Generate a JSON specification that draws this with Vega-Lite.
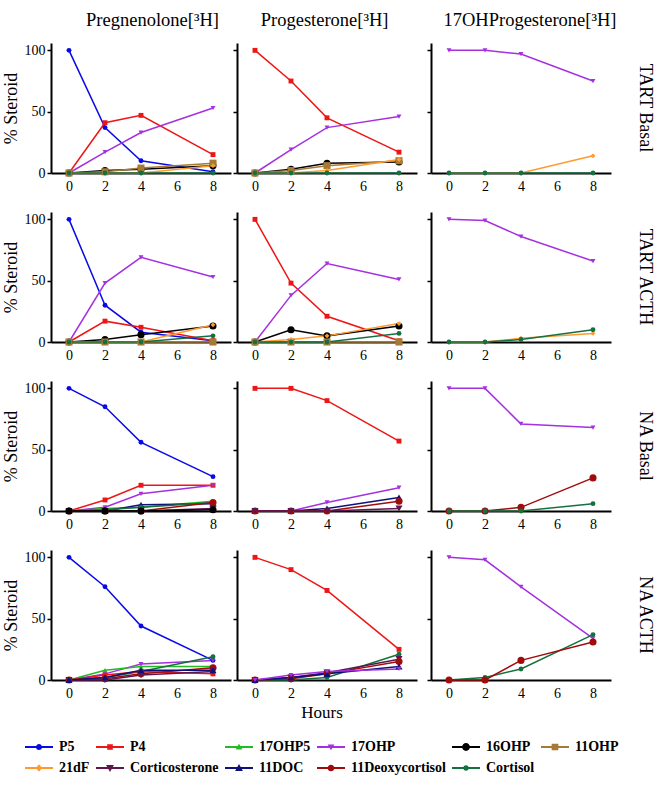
{
"$schema": "https://vega.github.io/schema/vega-lite/v6.json",
"padding": {"left": 2, "top": 10, "right": 0, "bottom": 0},
"datasets": {"d": [
{"src":"A","cond":"TART Basal","s":"P5","h":0,"v":100},{"src":"A","cond":"TART Basal","s":"P5","h":2,"v":37},{"src":"A","cond":"TART Basal","s":"P5","h":4,"v":10},{"src":"A","cond":"TART Basal","s":"P5","h":8,"v":1},
{"src":"A","cond":"TART Basal","s":"P4","h":0,"v":0},{"src":"A","cond":"TART Basal","s":"P4","h":2,"v":41},{"src":"A","cond":"TART Basal","s":"P4","h":4,"v":47},{"src":"A","cond":"TART Basal","s":"P4","h":8,"v":15},
{"src":"A","cond":"TART Basal","s":"17OHP","h":0,"v":0},{"src":"A","cond":"TART Basal","s":"17OHP","h":2,"v":17},{"src":"A","cond":"TART Basal","s":"17OHP","h":4,"v":33},{"src":"A","cond":"TART Basal","s":"17OHP","h":8,"v":53},
{"src":"A","cond":"TART Basal","s":"16OHP","h":0,"v":0},{"src":"A","cond":"TART Basal","s":"16OHP","h":2,"v":2},{"src":"A","cond":"TART Basal","s":"16OHP","h":4,"v":3},{"src":"A","cond":"TART Basal","s":"16OHP","h":8,"v":6},
{"src":"A","cond":"TART Basal","s":"11OHP","h":0,"v":0},{"src":"A","cond":"TART Basal","s":"11OHP","h":2,"v":1},{"src":"A","cond":"TART Basal","s":"11OHP","h":4,"v":4},{"src":"A","cond":"TART Basal","s":"11OHP","h":8,"v":8},
{"src":"A","cond":"TART Basal","s":"21dF","h":0,"v":0},{"src":"A","cond":"TART Basal","s":"21dF","h":2,"v":0},{"src":"A","cond":"TART Basal","s":"21dF","h":4,"v":0},{"src":"A","cond":"TART Basal","s":"21dF","h":8,"v":6},
{"src":"A","cond":"TART Basal","s":"Cortisol","h":0,"v":0},{"src":"A","cond":"TART Basal","s":"Cortisol","h":2,"v":0},{"src":"A","cond":"TART Basal","s":"Cortisol","h":4,"v":0},{"src":"A","cond":"TART Basal","s":"Cortisol","h":8,"v":0},
{"src":"B","cond":"TART Basal","s":"P4","h":0,"v":100},{"src":"B","cond":"TART Basal","s":"P4","h":2,"v":75},{"src":"B","cond":"TART Basal","s":"P4","h":4,"v":45},{"src":"B","cond":"TART Basal","s":"P4","h":8,"v":17},
{"src":"B","cond":"TART Basal","s":"17OHP","h":0,"v":0},{"src":"B","cond":"TART Basal","s":"17OHP","h":2,"v":19},{"src":"B","cond":"TART Basal","s":"17OHP","h":4,"v":37},{"src":"B","cond":"TART Basal","s":"17OHP","h":8,"v":46},
{"src":"B","cond":"TART Basal","s":"16OHP","h":0,"v":0},{"src":"B","cond":"TART Basal","s":"16OHP","h":2,"v":3},{"src":"B","cond":"TART Basal","s":"16OHP","h":4,"v":8},{"src":"B","cond":"TART Basal","s":"16OHP","h":8,"v":9},
{"src":"B","cond":"TART Basal","s":"11OHP","h":0,"v":0},{"src":"B","cond":"TART Basal","s":"11OHP","h":2,"v":2},{"src":"B","cond":"TART Basal","s":"11OHP","h":4,"v":6},{"src":"B","cond":"TART Basal","s":"11OHP","h":8,"v":10},
{"src":"B","cond":"TART Basal","s":"21dF","h":0,"v":0},{"src":"B","cond":"TART Basal","s":"21dF","h":2,"v":0},{"src":"B","cond":"TART Basal","s":"21dF","h":4,"v":2},{"src":"B","cond":"TART Basal","s":"21dF","h":8,"v":11},
{"src":"B","cond":"TART Basal","s":"Cortisol","h":0,"v":0},{"src":"B","cond":"TART Basal","s":"Cortisol","h":2,"v":0},{"src":"B","cond":"TART Basal","s":"Cortisol","h":4,"v":0},{"src":"B","cond":"TART Basal","s":"Cortisol","h":8,"v":0},
{"src":"C","cond":"TART Basal","s":"17OHP","h":0,"v":100},{"src":"C","cond":"TART Basal","s":"17OHP","h":2,"v":100},{"src":"C","cond":"TART Basal","s":"17OHP","h":4,"v":97},{"src":"C","cond":"TART Basal","s":"17OHP","h":8,"v":75},
{"src":"C","cond":"TART Basal","s":"21dF","h":0,"v":0},{"src":"C","cond":"TART Basal","s":"21dF","h":2,"v":0},{"src":"C","cond":"TART Basal","s":"21dF","h":4,"v":0},{"src":"C","cond":"TART Basal","s":"21dF","h":8,"v":14},
{"src":"C","cond":"TART Basal","s":"Cortisol","h":0,"v":0},{"src":"C","cond":"TART Basal","s":"Cortisol","h":2,"v":0},{"src":"C","cond":"TART Basal","s":"Cortisol","h":4,"v":0},{"src":"C","cond":"TART Basal","s":"Cortisol","h":8,"v":0},
{"src":"A","cond":"TART ACTH","s":"P5","h":0,"v":100},{"src":"A","cond":"TART ACTH","s":"P5","h":2,"v":30},{"src":"A","cond":"TART ACTH","s":"P5","h":4,"v":8},{"src":"A","cond":"TART ACTH","s":"P5","h":8,"v":1},
{"src":"A","cond":"TART ACTH","s":"P4","h":0,"v":0},{"src":"A","cond":"TART ACTH","s":"P4","h":2,"v":17},{"src":"A","cond":"TART ACTH","s":"P4","h":4,"v":12},{"src":"A","cond":"TART ACTH","s":"P4","h":8,"v":1},
{"src":"A","cond":"TART ACTH","s":"17OHP","h":0,"v":0},{"src":"A","cond":"TART ACTH","s":"17OHP","h":2,"v":48},{"src":"A","cond":"TART ACTH","s":"17OHP","h":4,"v":69},{"src":"A","cond":"TART ACTH","s":"17OHP","h":8,"v":53},
{"src":"A","cond":"TART ACTH","s":"16OHP","h":0,"v":0},{"src":"A","cond":"TART ACTH","s":"16OHP","h":2,"v":2},{"src":"A","cond":"TART ACTH","s":"16OHP","h":4,"v":6},{"src":"A","cond":"TART ACTH","s":"16OHP","h":8,"v":13},
{"src":"A","cond":"TART ACTH","s":"11OHP","h":0,"v":0},{"src":"A","cond":"TART ACTH","s":"11OHP","h":2,"v":0},{"src":"A","cond":"TART ACTH","s":"11OHP","h":4,"v":0},{"src":"A","cond":"TART ACTH","s":"11OHP","h":8,"v":0},
{"src":"A","cond":"TART ACTH","s":"21dF","h":0,"v":0},{"src":"A","cond":"TART ACTH","s":"21dF","h":2,"v":0},{"src":"A","cond":"TART ACTH","s":"21dF","h":4,"v":0},{"src":"A","cond":"TART ACTH","s":"21dF","h":8,"v":14},
{"src":"A","cond":"TART ACTH","s":"Cortisol","h":0,"v":0},{"src":"A","cond":"TART ACTH","s":"Cortisol","h":2,"v":0},{"src":"A","cond":"TART ACTH","s":"Cortisol","h":4,"v":0},{"src":"A","cond":"TART ACTH","s":"Cortisol","h":8,"v":5},
{"src":"B","cond":"TART ACTH","s":"P4","h":0,"v":100},{"src":"B","cond":"TART ACTH","s":"P4","h":2,"v":48},{"src":"B","cond":"TART ACTH","s":"P4","h":4,"v":21},{"src":"B","cond":"TART ACTH","s":"P4","h":8,"v":1},
{"src":"B","cond":"TART ACTH","s":"17OHP","h":0,"v":0},{"src":"B","cond":"TART ACTH","s":"17OHP","h":2,"v":38},{"src":"B","cond":"TART ACTH","s":"17OHP","h":4,"v":64},{"src":"B","cond":"TART ACTH","s":"17OHP","h":8,"v":51},
{"src":"B","cond":"TART ACTH","s":"16OHP","h":0,"v":0},{"src":"B","cond":"TART ACTH","s":"16OHP","h":2,"v":10},{"src":"B","cond":"TART ACTH","s":"16OHP","h":4,"v":5},{"src":"B","cond":"TART ACTH","s":"16OHP","h":8,"v":13},
{"src":"B","cond":"TART ACTH","s":"11OHP","h":0,"v":0},{"src":"B","cond":"TART ACTH","s":"11OHP","h":2,"v":0},{"src":"B","cond":"TART ACTH","s":"11OHP","h":4,"v":0},{"src":"B","cond":"TART ACTH","s":"11OHP","h":8,"v":0},
{"src":"B","cond":"TART ACTH","s":"21dF","h":0,"v":0},{"src":"B","cond":"TART ACTH","s":"21dF","h":2,"v":2},{"src":"B","cond":"TART ACTH","s":"21dF","h":4,"v":5},{"src":"B","cond":"TART ACTH","s":"21dF","h":8,"v":15},
{"src":"B","cond":"TART ACTH","s":"Cortisol","h":0,"v":0},{"src":"B","cond":"TART ACTH","s":"Cortisol","h":2,"v":0},{"src":"B","cond":"TART ACTH","s":"Cortisol","h":4,"v":0},{"src":"B","cond":"TART ACTH","s":"Cortisol","h":8,"v":7},
{"src":"C","cond":"TART ACTH","s":"17OHP","h":0,"v":100},{"src":"C","cond":"TART ACTH","s":"17OHP","h":2,"v":99},{"src":"C","cond":"TART ACTH","s":"17OHP","h":4,"v":86},{"src":"C","cond":"TART ACTH","s":"17OHP","h":8,"v":66},
{"src":"C","cond":"TART ACTH","s":"21dF","h":0,"v":0},{"src":"C","cond":"TART ACTH","s":"21dF","h":2,"v":0},{"src":"C","cond":"TART ACTH","s":"21dF","h":4,"v":3},{"src":"C","cond":"TART ACTH","s":"21dF","h":8,"v":7},
{"src":"C","cond":"TART ACTH","s":"Cortisol","h":0,"v":0},{"src":"C","cond":"TART ACTH","s":"Cortisol","h":2,"v":0},{"src":"C","cond":"TART ACTH","s":"Cortisol","h":4,"v":2},{"src":"C","cond":"TART ACTH","s":"Cortisol","h":8,"v":10},
{"src":"A","cond":"NA Basal","s":"P5","h":0,"v":100},{"src":"A","cond":"NA Basal","s":"P5","h":2,"v":85},{"src":"A","cond":"NA Basal","s":"P5","h":4,"v":56},{"src":"A","cond":"NA Basal","s":"P5","h":8,"v":28},
{"src":"A","cond":"NA Basal","s":"P4","h":0,"v":0},{"src":"A","cond":"NA Basal","s":"P4","h":2,"v":9},{"src":"A","cond":"NA Basal","s":"P4","h":4,"v":21},{"src":"A","cond":"NA Basal","s":"P4","h":8,"v":21},
{"src":"A","cond":"NA Basal","s":"17OHP","h":0,"v":0},{"src":"A","cond":"NA Basal","s":"17OHP","h":2,"v":3},{"src":"A","cond":"NA Basal","s":"17OHP","h":4,"v":14},{"src":"A","cond":"NA Basal","s":"17OHP","h":8,"v":21},
{"src":"A","cond":"NA Basal","s":"17OHP5","h":0,"v":0},{"src":"A","cond":"NA Basal","s":"17OHP5","h":2,"v":2},{"src":"A","cond":"NA Basal","s":"17OHP5","h":4,"v":3},{"src":"A","cond":"NA Basal","s":"17OHP5","h":8,"v":8},
{"src":"A","cond":"NA Basal","s":"11DOC","h":0,"v":0},{"src":"A","cond":"NA Basal","s":"11DOC","h":2,"v":0},{"src":"A","cond":"NA Basal","s":"11DOC","h":4,"v":5},{"src":"A","cond":"NA Basal","s":"11DOC","h":8,"v":6},
{"src":"A","cond":"NA Basal","s":"Cortisol","h":0,"v":0},{"src":"A","cond":"NA Basal","s":"Cortisol","h":2,"v":1},{"src":"A","cond":"NA Basal","s":"Cortisol","h":4,"v":3},{"src":"A","cond":"NA Basal","s":"Cortisol","h":8,"v":7},
{"src":"A","cond":"NA Basal","s":"11Deoxycortisol","h":0,"v":0},{"src":"A","cond":"NA Basal","s":"11Deoxycortisol","h":2,"v":0},{"src":"A","cond":"NA Basal","s":"11Deoxycortisol","h":4,"v":0},{"src":"A","cond":"NA Basal","s":"11Deoxycortisol","h":8,"v":7},
{"src":"A","cond":"NA Basal","s":"Corticosterone","h":0,"v":0},{"src":"A","cond":"NA Basal","s":"Corticosterone","h":2,"v":0},{"src":"A","cond":"NA Basal","s":"Corticosterone","h":4,"v":0},{"src":"A","cond":"NA Basal","s":"Corticosterone","h":8,"v":2},
{"src":"A","cond":"NA Basal","s":"16OHP","h":0,"v":0},{"src":"A","cond":"NA Basal","s":"16OHP","h":2,"v":0},{"src":"A","cond":"NA Basal","s":"16OHP","h":4,"v":0},{"src":"A","cond":"NA Basal","s":"16OHP","h":8,"v":1},
{"src":"B","cond":"NA Basal","s":"P4","h":0,"v":100},{"src":"B","cond":"NA Basal","s":"P4","h":2,"v":100},{"src":"B","cond":"NA Basal","s":"P4","h":4,"v":90},{"src":"B","cond":"NA Basal","s":"P4","h":8,"v":57},
{"src":"B","cond":"NA Basal","s":"17OHP","h":0,"v":0},{"src":"B","cond":"NA Basal","s":"17OHP","h":2,"v":0},{"src":"B","cond":"NA Basal","s":"17OHP","h":4,"v":7},{"src":"B","cond":"NA Basal","s":"17OHP","h":8,"v":19},
{"src":"B","cond":"NA Basal","s":"11DOC","h":0,"v":0},{"src":"B","cond":"NA Basal","s":"11DOC","h":2,"v":0},{"src":"B","cond":"NA Basal","s":"11DOC","h":4,"v":2},{"src":"B","cond":"NA Basal","s":"11DOC","h":8,"v":11},
{"src":"B","cond":"NA Basal","s":"11Deoxycortisol","h":0,"v":0},{"src":"B","cond":"NA Basal","s":"11Deoxycortisol","h":2,"v":0},{"src":"B","cond":"NA Basal","s":"11Deoxycortisol","h":4,"v":0},{"src":"B","cond":"NA Basal","s":"11Deoxycortisol","h":8,"v":8},
{"src":"B","cond":"NA Basal","s":"Corticosterone","h":0,"v":0},{"src":"B","cond":"NA Basal","s":"Corticosterone","h":2,"v":0},{"src":"B","cond":"NA Basal","s":"Corticosterone","h":4,"v":0},{"src":"B","cond":"NA Basal","s":"Corticosterone","h":8,"v":2},
{"src":"C","cond":"NA Basal","s":"17OHP","h":0,"v":100},{"src":"C","cond":"NA Basal","s":"17OHP","h":2,"v":100},{"src":"C","cond":"NA Basal","s":"17OHP","h":4,"v":71},{"src":"C","cond":"NA Basal","s":"17OHP","h":8,"v":68},
{"src":"C","cond":"NA Basal","s":"11Deoxycortisol","h":0,"v":0},{"src":"C","cond":"NA Basal","s":"11Deoxycortisol","h":2,"v":0},{"src":"C","cond":"NA Basal","s":"11Deoxycortisol","h":4,"v":3},{"src":"C","cond":"NA Basal","s":"11Deoxycortisol","h":8,"v":27},
{"src":"C","cond":"NA Basal","s":"Cortisol","h":0,"v":0},{"src":"C","cond":"NA Basal","s":"Cortisol","h":2,"v":0},{"src":"C","cond":"NA Basal","s":"Cortisol","h":4,"v":0},{"src":"C","cond":"NA Basal","s":"Cortisol","h":8,"v":6},
{"src":"A","cond":"NA ACTH","s":"P5","h":0,"v":100},{"src":"A","cond":"NA ACTH","s":"P5","h":2,"v":76},{"src":"A","cond":"NA ACTH","s":"P5","h":4,"v":44},{"src":"A","cond":"NA ACTH","s":"P5","h":8,"v":16},
{"src":"A","cond":"NA ACTH","s":"17OHP","h":0,"v":0},{"src":"A","cond":"NA ACTH","s":"17OHP","h":2,"v":5},{"src":"A","cond":"NA ACTH","s":"17OHP","h":4,"v":13},{"src":"A","cond":"NA ACTH","s":"17OHP","h":8,"v":16},
{"src":"A","cond":"NA ACTH","s":"17OHP5","h":0,"v":0},{"src":"A","cond":"NA ACTH","s":"17OHP5","h":2,"v":8},{"src":"A","cond":"NA ACTH","s":"17OHP5","h":4,"v":11},{"src":"A","cond":"NA ACTH","s":"17OHP5","h":8,"v":11},
{"src":"A","cond":"NA ACTH","s":"Cortisol","h":0,"v":0},{"src":"A","cond":"NA ACTH","s":"Cortisol","h":2,"v":2},{"src":"A","cond":"NA ACTH","s":"Cortisol","h":4,"v":7},{"src":"A","cond":"NA ACTH","s":"Cortisol","h":8,"v":19},
{"src":"A","cond":"NA ACTH","s":"P4","h":0,"v":0},{"src":"A","cond":"NA ACTH","s":"P4","h":2,"v":4},{"src":"A","cond":"NA ACTH","s":"P4","h":4,"v":7},{"src":"A","cond":"NA ACTH","s":"P4","h":8,"v":5},
{"src":"A","cond":"NA ACTH","s":"11Deoxycortisol","h":0,"v":0},{"src":"A","cond":"NA ACTH","s":"11Deoxycortisol","h":2,"v":1},{"src":"A","cond":"NA ACTH","s":"11Deoxycortisol","h":4,"v":5},{"src":"A","cond":"NA ACTH","s":"11Deoxycortisol","h":8,"v":10},
{"src":"A","cond":"NA ACTH","s":"Corticosterone","h":0,"v":0},{"src":"A","cond":"NA ACTH","s":"Corticosterone","h":2,"v":0},{"src":"A","cond":"NA ACTH","s":"Corticosterone","h":4,"v":4},{"src":"A","cond":"NA ACTH","s":"Corticosterone","h":8,"v":7},
{"src":"A","cond":"NA ACTH","s":"11DOC","h":0,"v":0},{"src":"A","cond":"NA ACTH","s":"11DOC","h":2,"v":2},{"src":"A","cond":"NA ACTH","s":"11DOC","h":4,"v":8},{"src":"A","cond":"NA ACTH","s":"11DOC","h":8,"v":8},
{"src":"B","cond":"NA ACTH","s":"P4","h":0,"v":100},{"src":"B","cond":"NA ACTH","s":"P4","h":2,"v":90},{"src":"B","cond":"NA ACTH","s":"P4","h":4,"v":73},{"src":"B","cond":"NA ACTH","s":"P4","h":8,"v":25},
{"src":"B","cond":"NA ACTH","s":"Cortisol","h":0,"v":0},{"src":"B","cond":"NA ACTH","s":"Cortisol","h":2,"v":0},{"src":"B","cond":"NA ACTH","s":"Cortisol","h":4,"v":2},{"src":"B","cond":"NA ACTH","s":"Cortisol","h":8,"v":21},
{"src":"B","cond":"NA ACTH","s":"Corticosterone","h":0,"v":0},{"src":"B","cond":"NA ACTH","s":"Corticosterone","h":2,"v":2},{"src":"B","cond":"NA ACTH","s":"Corticosterone","h":4,"v":6},{"src":"B","cond":"NA ACTH","s":"Corticosterone","h":8,"v":17},
{"src":"B","cond":"NA ACTH","s":"11Deoxycortisol","h":0,"v":0},{"src":"B","cond":"NA ACTH","s":"11Deoxycortisol","h":2,"v":1},{"src":"B","cond":"NA ACTH","s":"11Deoxycortisol","h":4,"v":5},{"src":"B","cond":"NA ACTH","s":"11Deoxycortisol","h":8,"v":15},
{"src":"B","cond":"NA ACTH","s":"11DOC","h":0,"v":0},{"src":"B","cond":"NA ACTH","s":"11DOC","h":2,"v":2},{"src":"B","cond":"NA ACTH","s":"11DOC","h":4,"v":5},{"src":"B","cond":"NA ACTH","s":"11DOC","h":8,"v":11},
{"src":"B","cond":"NA ACTH","s":"17OHP","h":0,"v":0},{"src":"B","cond":"NA ACTH","s":"17OHP","h":2,"v":4},{"src":"B","cond":"NA ACTH","s":"17OHP","h":4,"v":7},{"src":"B","cond":"NA ACTH","s":"17OHP","h":8,"v":9},
{"src":"C","cond":"NA ACTH","s":"17OHP","h":0,"v":100},{"src":"C","cond":"NA ACTH","s":"17OHP","h":2,"v":98},{"src":"C","cond":"NA ACTH","s":"17OHP","h":4,"v":76},{"src":"C","cond":"NA ACTH","s":"17OHP","h":8,"v":34},
{"src":"C","cond":"NA ACTH","s":"Cortisol","h":0,"v":0},{"src":"C","cond":"NA ACTH","s":"Cortisol","h":2,"v":2},{"src":"C","cond":"NA ACTH","s":"Cortisol","h":4,"v":9},{"src":"C","cond":"NA ACTH","s":"Cortisol","h":8,"v":37},
{"src":"C","cond":"NA ACTH","s":"11Deoxycortisol","h":0,"v":0},{"src":"C","cond":"NA ACTH","s":"11Deoxycortisol","h":2,"v":0},{"src":"C","cond":"NA ACTH","s":"11Deoxycortisol","h":4,"v":16},{"src":"C","cond":"NA ACTH","s":"11Deoxycortisol","h":8,"v":31}
]},
"hconcat": [
{
"data": {"name": "d"},
"transform": [{"filter": "datum.src === 'A'"}],
"title": {"text": "Pregnenolone[³H]", "dx": 36},
"facet": {"row": {"field": "cond", "type": "nominal", "sort": ["TART Basal","TART ACTH","NA Basal","NA ACTH"], "header": {"labels": false, "title": null}}},
"spacing": 19,
"resolve": {"axis": {"x": "independent"}},
"spec": {"width": 180, "height": 130, "layer": [
{"transform": [{"filter": "false"}],
 "mark": {"type": "point", "filled": true, "opacity": 1, "size": 784, "strokeWidth": 0},
 "encoding": {
  "color": {"field": "s", "type": "nominal",
    "legend": {"title": "Hours", "orient": "none", "legendX": -26, "legendY": 662, "direction": "horizontal", "columns": 6, "columnPadding": 6, "titleOrient": "top", "titleAnchor": "middle", "titlePadding": 11},
    "scale": {"domain": ["P5","P4","17OHP5","17OHP","16OHP","11OHP","21dF","Corticosterone","11DOC","11Deoxycortisol","Cortisol"], "range": ["#0a0ae6","#ee1515","#22bb22","#a530e0","#000000","#a57a35","#ff9a2e","#5c1650","#10107a","#a00c0c","#157040"]}},
  "shape": {"field": "s", "type": "nominal",
    "legend": {"title": "Hours", "orient": "none", "legendX": -26, "legendY": 662, "direction": "horizontal", "columns": 6, "columnPadding": 6, "titleOrient": "top", "titleAnchor": "middle", "titlePadding": 11},
    "scale": {"domain": ["P5","P4","17OHP5","17OHP","16OHP","11OHP","21dF","Corticosterone","11DOC","11Deoxycortisol","Cortisol"],
      "range": [
       "M-1,-0.07H1V0.07H-1ZM-0.22,0A0.22,0.22 0 1,1 0.22,0A0.22,0.22 0 1,1 -0.22,0Z",
       "M-1,-0.07H1V0.07H-1ZM-0.2,-0.2H0.2V0.2H-0.2Z",
       "M-1,-0.07H1V0.07H-1ZM0,-0.24L0.24,0.18H-0.24Z",
       "M-1,-0.07H1V0.07H-1ZM0,0.24L-0.24,-0.18H0.24Z",
       "M-1,-0.07H1V0.07H-1ZM-0.28,0A0.28,0.28 0 1,1 0.28,0A0.28,0.28 0 1,1 -0.28,0Z",
       "M-1,-0.07H1V0.07H-1ZM-0.24,-0.24H0.24V0.24H-0.24Z",
       "M-1,-0.07H1V0.07H-1ZM0,-0.26L0.22,0L0,0.26L-0.22,0Z",
       "M-1,-0.07H1V0.07H-1ZM0,0.28L-0.28,-0.22H0.28Z",
       "M-1,-0.07H1V0.07H-1ZM0,-0.28L0.28,0.22H-0.28Z",
       "M-1,-0.07H1V0.07H-1ZM-0.24,0A0.24,0.24 0 1,1 0.24,0A0.24,0.24 0 1,1 -0.24,0Z",
       "M-1,-0.07H1V0.07H-1ZM-0.2,0A0.2,0.2 0 1,1 0.2,0A0.2,0.2 0 1,1 -0.2,0Z"]}}}},
{"mark": {"type": "line", "strokeWidth": 1.5},
 "encoding": {
  "x": {"field": "h", "type": "quantitative", "scale": {"domain": [-1, 9], "nice": false}, "axis": {"values": [0,2,4,6,8], "title": null, "ticks": false, "labelPadding": 6}},
  "y": {"field": "v", "type": "quantitative", "scale": {"domain": [0, 106], "nice": false}, "axis": {"values": [0,50,100], "title": "% Steroid", "tickSize": 4, "labelPadding": 2, "titlePadding": 4}},
  "color": {"field": "s", "type": "nominal"}}},
{"mark": {"type": "point", "filled": true, "opacity": 1},
 "encoding": {
  "x": {"field": "h", "type": "quantitative"},
  "y": {"field": "v", "type": "quantitative"},
  "color": {"field": "s", "type": "nominal"},
  "shape": {"condition": [{"test": "datum.s==='P4'||datum.s==='11OHP'", "value": "square"}, {"test": "datum.s==='17OHP5'||datum.s==='11DOC'", "value": "triangle-up"}, {"test": "datum.s==='17OHP'||datum.s==='Corticosterone'", "value": "triangle-down"}, {"test": "datum.s==='21dF'", "value": "diamond"}], "value": "circle"},
  "size": {"condition": {"test": "datum.s==='16OHP'||datum.s==='11OHP'||datum.s==='Corticosterone'||datum.s==='11DOC'||datum.s==='11Deoxycortisol'", "value": 50}, "value": 24}}}
]}
},
{
"data": {"name": "d"},
"transform": [{"filter": "datum.src === 'B'"}],
"title": {"text": "Progesterone[³H]"},
"facet": {"row": {"field": "cond", "type": "nominal", "sort": ["TART Basal","TART ACTH","NA Basal","NA ACTH"], "header": {"labels": false, "title": null}}},
"spacing": 19,
"resolve": {"axis": {"x": "independent"}},
"spec": {"width": 180, "height": 130, "layer": [
{"mark": {"type": "line", "strokeWidth": 1.5},
 "encoding": {
  "x": {"field": "h", "type": "quantitative", "scale": {"domain": [-1, 9], "nice": false}, "axis": {"values": [0,2,4,6,8], "title": null, "ticks": false, "labelPadding": 6}},
  "y": {"field": "v", "type": "quantitative", "scale": {"domain": [0, 106], "nice": false}, "axis": {"values": [0,50,100], "title": null, "labels": false, "tickSize": 4}},
  "color": {"field": "s", "type": "nominal"}}},
{"mark": {"type": "point", "filled": true, "opacity": 1},
 "encoding": {
  "x": {"field": "h", "type": "quantitative"},
  "y": {"field": "v", "type": "quantitative"},
  "color": {"field": "s", "type": "nominal"},
  "shape": {"condition": [{"test": "datum.s==='P4'||datum.s==='11OHP'", "value": "square"}, {"test": "datum.s==='17OHP5'||datum.s==='11DOC'", "value": "triangle-up"}, {"test": "datum.s==='17OHP'||datum.s==='Corticosterone'", "value": "triangle-down"}, {"test": "datum.s==='21dF'", "value": "diamond"}], "value": "circle"},
  "size": {"condition": {"test": "datum.s==='16OHP'||datum.s==='11OHP'||datum.s==='Corticosterone'||datum.s==='11DOC'||datum.s==='11Deoxycortisol'", "value": 50}, "value": 24}}}
]}
},
{
"data": {"name": "d"},
"transform": [{"filter": "datum.src === 'C'"}],
"title": {"text": "17OHProgesterone[³H]", "dx": -6},
"facet": {"row": {"field": "cond", "type": "nominal", "sort": ["TART Basal","TART ACTH","NA Basal","NA ACTH"], "header": {"title": null, "labelOrient": "right", "labelAngle": 90, "labelPadding": 25, "labelFontSize": 18, "labelFont": "Liberation Serif", "labelColor": "black"}}},
"spacing": 19,
"resolve": {"axis": {"x": "independent"}},
"spec": {"width": 180, "height": 130, "layer": [
{"mark": {"type": "line", "strokeWidth": 1.5},
 "encoding": {
  "x": {"field": "h", "type": "quantitative", "scale": {"domain": [-1, 9], "nice": false}, "axis": {"values": [0,2,4,6,8], "title": null, "ticks": false, "labelPadding": 6}},
  "y": {"field": "v", "type": "quantitative", "scale": {"domain": [0, 106], "nice": false}, "axis": {"values": [0,50,100], "title": null, "labels": false, "tickSize": 4, "minExtent": 13}},
  "color": {"field": "s", "type": "nominal"}}},
{"mark": {"type": "point", "filled": true, "opacity": 1},
 "encoding": {
  "x": {"field": "h", "type": "quantitative"},
  "y": {"field": "v", "type": "quantitative"},
  "color": {"field": "s", "type": "nominal"},
  "shape": {"condition": [{"test": "datum.s==='P4'||datum.s==='11OHP'", "value": "square"}, {"test": "datum.s==='17OHP5'||datum.s==='11DOC'", "value": "triangle-up"}, {"test": "datum.s==='17OHP'||datum.s==='Corticosterone'", "value": "triangle-down"}, {"test": "datum.s==='21dF'", "value": "diamond"}], "value": "circle"},
  "size": {"condition": {"test": "datum.s==='16OHP'||datum.s==='11OHP'||datum.s==='Corticosterone'||datum.s==='11DOC'||datum.s==='11Deoxycortisol'", "value": 50}, "value": 24}}}
]}
}
],
"spacing": 1,
"resolve": {"scale": {"color": "shared", "shape": "shared"}, "legend": {"color": "shared", "shape": "shared"}},
"config": {
 "view": {"stroke": null},
 "font": "Liberation Serif",
 "axis": {"labelFont": "Liberation Serif", "labelFontSize": 14, "labelColor": "black", "domainColor": "black", "domainWidth": 2, "tickColor": "black", "tickWidth": 1.5, "grid": false, "titleFont": "Liberation Serif", "titleFontWeight": "normal", "titleColor": "black", "titleFontSize": 18},
 "title": {"font": "Liberation Serif", "fontSize": 18.5, "fontWeight": "normal", "color": "black", "offset": 14, "anchor": "middle"},
 "legend": {"symbolSize": 784, "symbolStrokeWidth": 0, "symbolOpacity": 1, "rowPadding": 0, "labelOffset": 6, "labelFont": "Liberation Serif", "labelFontSize": 14, "labelFontWeight": "bold", "labelColor": "black", "labelLimit": 200, "titleFont": "Liberation Serif", "titleFontSize": 17, "titleFontWeight": "normal", "titleColor": "black", "titleLimit": 400}
}
}
